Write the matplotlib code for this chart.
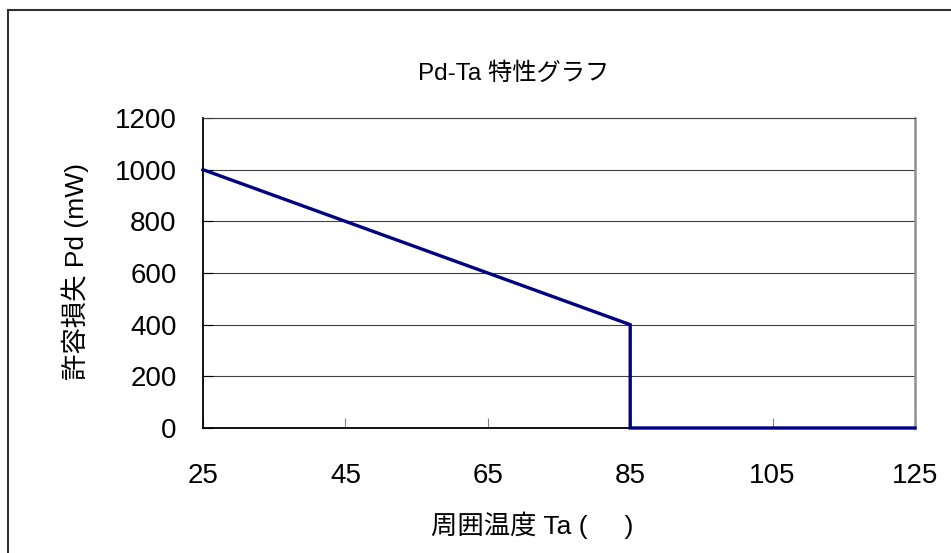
import matplotlib
matplotlib.use("Agg")
import matplotlib.pyplot as plt
from matplotlib.lines import Line2D

plt.rcParams['font.family'] = ['Liberation Sans', 'Noto Sans CJK JP', 'DejaVu Sans']

# Derating curve: ambient temperature vs allowable power dissipation
temperature = [25, 85, 85, 125]
power_mw = [1000, 400, 0, 0]
x_ticks = [25, 45, 65, 85, 105, 125]
y_ticks = [0, 200, 400, 600, 800, 1000, 1200]

title = "Pd-Ta 特性グラフ"
x_label = "周囲温度 Ta (     )"
y_label = "許容損失 Pd (mW)"

W, H = 951, 553
fig = plt.figure(figsize=(W / 100, H / 100), dpi=100)
fig.patch.set_facecolor("white")

# chart-area frame (top and left edges visible)
fx0, fy0 = 8 / W, 1 - 10 / H
fig.add_artist(Line2D([fx0, 1.01], [fy0, fy0], transform=fig.transFigure,
                      color="#303030", lw=1.5))
fig.add_artist(Line2D([fx0, fx0], [fy0, -0.01], transform=fig.transFigure,
                      color="#303030", lw=1.5))

left, right, top, bottom = 203, 915, 118, 428
ax = fig.add_axes([left / W, 1 - bottom / H, (right - left) / W, (bottom - top) / H])

ax.plot(temperature, power_mw, color="#000080", lw=2.4, solid_joinstyle="miter",
        clip_on=False, zorder=5)

ax.set_xlim(25, 125)
ax.set_ylim(0, 1200)
ax.set_xticks(x_ticks)
ax.set_yticks(y_ticks)
ax.set_xticklabels([str(v) for v in x_ticks])
ax.set_yticklabels([str(v) for v in y_ticks])

ax.yaxis.grid(True, color="#404040", lw=0.8)
ax.set_axisbelow(True)

ax.tick_params(axis="x", direction="in", length=7, width=0.8, color="#808080",
               labelsize=20, pad=25)
ax.tick_params(axis="y", direction="in", length=7, width=0.8, color="black",
               labelsize=20, pad=19)

for side in ("left", "bottom"):
    ax.spines[side].set_color("black")
    ax.spines[side].set_linewidth(1.3)
ax.spines["top"].set_color("#404040")
ax.spines["top"].set_linewidth(0.8)
ax.spines["right"].set_color("#909090")
ax.spines["right"].set_linewidth(1.8)

fig.text(514 / W, 1 - 74 / H, title, ha="center", va="center", fontsize=17.5)
fig.text(532 / W, 1 - 525 / H, x_label, ha="center", va="center", fontsize=19)
fig.text(75 / W, 1 - 272 / H, y_label, ha="center", va="center", fontsize=19,
         rotation=90)

fig.savefig("out.png", dpi=100)
